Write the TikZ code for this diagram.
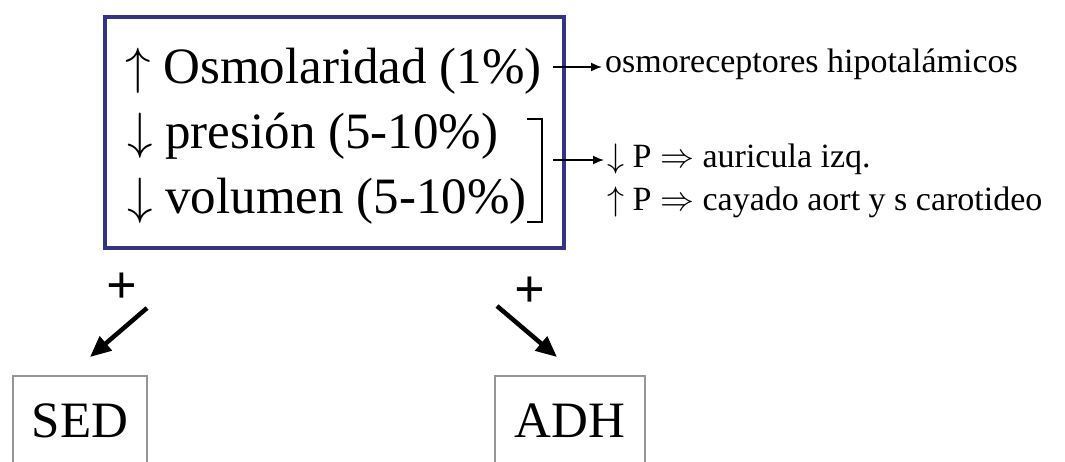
\documentclass[tikz,border=0pt]{standalone}
\usepackage{fix-cm}
\usepackage{fontspec}
\newfontfamily\timesfont{Liberation Serif}
\usetikzlibrary{arrows.meta}
\definecolor{boxblue}{RGB}{52,52,128}
\definecolor{boxgray}{RGB}{150,150,150}
\newcommand{\bigtext}{\fontsize{51}{60}\selectfont\timesfont}
\newcommand{\smalltext}{\fontsize{34}{40}\selectfont\timesfont}
\tikzset{
  big/.style={font=\bigtext, inner sep=0pt, anchor=base west},
  small/.style={font=\smalltext, inner sep=0pt, anchor=base west},
  bluebox/.style={draw=boxblue, line width=4pt, anchor=north west, inner sep=0pt},
  graybox/.style={draw=boxgray, line width=1.6pt, anchor=north, inner sep=0pt,
    minimum width=134pt, minimum height=90pt, text height=34pt, text depth=0pt,
    font=\bigtext},
  plus/.style={font=\fontsize{54}{60}\selectfont\timesfont\bfseries, inner sep=0pt},
  thin/.style={line width=1.6pt, -{Latex[length=11pt,width=9pt]}},
  thick/.style={line width=4.5pt, -{Triangle[length=21pt,width=18pt]}}
}
\begin{document}
\begin{tikzpicture}[x=1pt,y=-1pt]
\useasboundingbox[fill=white] (0,0) rectangle (1065,461);

% stimulus box
\node (main) [bluebox, minimum width=459pt, minimum height=231pt] at (103,15) {};
\node (osm) [big] at (125,83) {$\uparrow$ Osmolaridad (1\%)};
\node (pre) [big] at (127,148) {$\downarrow$ presión (5-10\%)};
\node (vol) [big] at (127,213) {$\downarrow$ volumen (5-10\%)};

% bracket grouping pressure and volume
\draw[line width=1.5pt] (527,119) -- (542,119) -- (542,222) -- (527,222);

% receptors
\node (rec1) [small] at (605,72) {osmoreceptores hipotalámicos};
\node (rec2) [small] at (607,167) {$\downarrow$ P $\Rightarrow$ auricula izq.};
\node (rec3) [small] at (607,210) {$\uparrow$ P $\Rightarrow$ cayado aort y s carotideo};

\coordinate (o1) at (553,67);
\coordinate (o2) at (553,160);
\draw[thin] (o1) -- ([xshift=-3pt]rec1.west |- o1);
\draw[thin] (o2) -- ([xshift=-3pt]rec2.west |- o2);

% responses
\node (sed) [graybox] at (80,375) {SED};
\node (adh) [graybox, minimum width=150pt] at (570,375) {ADH};

\node (p1) [plus] at (122,288) {+};
\node (p2) [plus] at (530,292) {+};

\coordinate (s1) at (147,308);
\coordinate (s2) at (90,357);
\coordinate (a1) at (497,306);
\coordinate (a2) at (557,357);
\draw[thick] (s1) -- (s2);
\draw[thick] (a1) -- (a2);
\end{tikzpicture}
\end{document}
